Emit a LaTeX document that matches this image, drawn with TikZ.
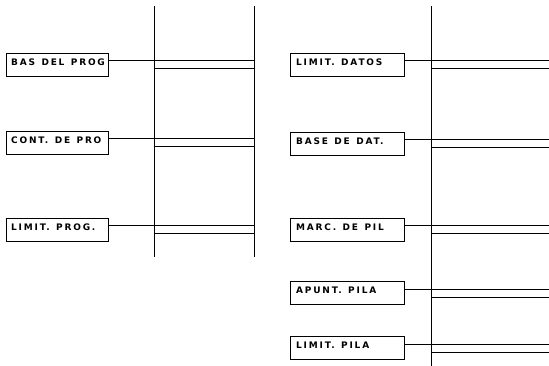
\documentclass[tikz,border=0pt]{standalone}
\usepackage{fontspec}
\setmainfont{DejaVu Sans}[LetterSpace=20,WordSpace=1.3]
\begin{document}
\begin{tikzpicture}[x=1pt,y=-1pt,
  lbl/.style={draw,line width=1pt,minimum height=23pt,inner sep=0pt,anchor=north west},
  txt/.style={anchor=west,inner sep=0pt,font=\fontsize{9}{10}\selectfont\bfseries},
  ln/.style={line width=1pt}]
\useasboundingbox (0,0) rectangle (549,366);
% left panel columns
\coordinate (lt1) at (154,6); \coordinate (lb1) at (154,257);
\coordinate (lt2) at (254,6); \coordinate (lb2) at (254,257);
\draw[ln] (lt1) -- (lb1);
\draw[ln] (lt2) -- (lb2);
% right panel column
\coordinate (rt) at (431,6); \coordinate (rb) at (431,366);
\draw[ln] (rt) -- (rb);
\newcommand\lbox[4]{%
  \node[lbl,minimum width=102pt] (#1) at (6,#2) {};
  \coordinate (#1a) at (254,#3);
  \coordinate (#1b) at (154,#3+8);
  \coordinate (#1c) at (254,#3+8);
  \node[txt] (#1t) at ([xshift=5pt,yshift=-1.5pt]#1.west |- #1a) {#4};
  \draw[ln] (#1.east |- #1a) -- (#1a);
  \draw[ln] (#1b) -- (#1c);}
\newcommand\rbox[4]{%
  \node[lbl,minimum width=114pt] (#1) at (290,#2) {};
  \coordinate (#1a) at (549,#3);
  \coordinate (#1b) at (431,#3+8);
  \coordinate (#1c) at (549,#3+8);
  \node[txt] (#1t) at ([xshift=6pt,yshift=-1.5pt]#1.west |- #1a) {#4};
  \draw[ln] (#1.east |- #1a) -- (#1a);
  \draw[ln] (#1b) -- (#1c);}
\lbox{a}{53}{61}{BAS DEL PROG}
\lbox{b}{131}{139}{CONT. DE PRO}
\lbox{c}{218}{226}{LIMIT. PROG.}
\rbox{d}{53}{61}{LIMIT. DATOS}
\rbox{e}{132}{140}{BASE DE DAT.}
\rbox{f}{218}{226}{MARC. DE PIL}
\rbox{g}{281}{289}{APUNT. PILA}
\rbox{h}{336}{344}{LIMIT. PILA}
\end{tikzpicture}
\end{document}
